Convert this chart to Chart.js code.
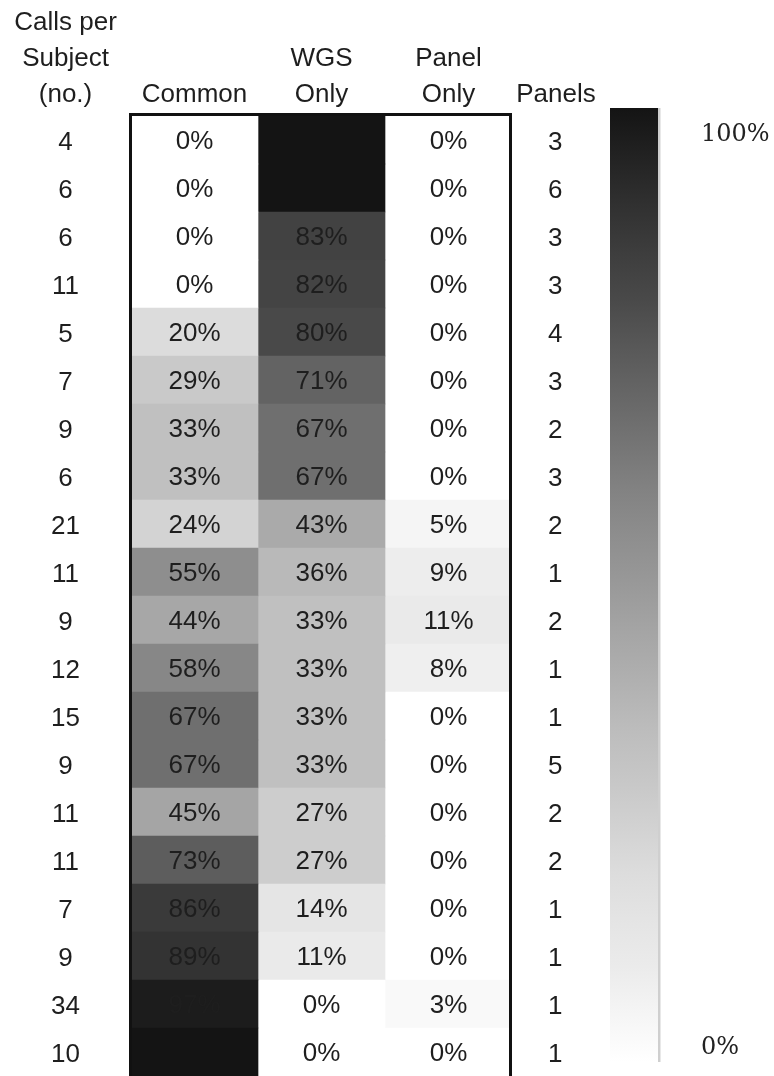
<!DOCTYPE html>
<html>
<head>
<meta charset="utf-8">
<script src="https://cdn.jsdelivr.net/npm/chart.js@4.4.1/dist/chart.umd.min.js"></script>
<style>
  html, body { margin: 0; padding: 0; background: #fff; overflow: hidden; }
  canvas { display: block; }
</style>
</head>
<body>
<canvas id="heat" width="774" height="1076"></canvas>
<script>
// rows, top to bottom
let callsPerSubject = [4, 6, 6, 11, 5, 7, 9, 6, 21, 11, 9, 12, 15, 9, 11, 11, 7, 9, 34, 10];
let panelCounts = [3, 6, 3, 3, 4, 3, 2, 3, 2, 1, 2, 1, 1, 5, 2, 2, 1, 1, 1, 1];
let commonPct = [0, 0, 0, 0, 20, 29, 33, 33, 24, 55, 44, 58, 67, 67, 45, 73, 86, 89, 97, 100];
let wgsOnlyPct = [100, 100, 83, 82, 80, 71, 67, 67, 43, 36, 33, 33, 33, 33, 27, 27, 14, 11, 0, 0];
let panelOnlyPct = [0, 0, 0, 0, 0, 0, 0, 0, 5, 9, 11, 8, 0, 0, 0, 0, 0, 0, 3, 0];
let columnHeaders = [['Common'], ['WGS', 'Only'], ['Panel', 'Only']];
let colorbarLabels = ['0%', '100%'];

// grey colour map (fraction -> grey level)
const greyStops = [[0, 255], [0.1, 235], [0.2, 220], [0.33, 192], [0.45, 165],
    [0.58, 135], [0.67, 111], [0.8, 73], [0.89, 51], [1, 20]];

function greyFor(frac) {
    for (let i = 1; i < greyStops.length; i++) {
        let a = greyStops[i - 1], b = greyStops[i];
        if (frac <= b[0]) {
            let t = (frac - a[0]) / (b[0] - a[0]);
            let g = Math.round(a[1] + (b[1] - a[1]) * t);
            return `rgb(${g}, ${g}, ${g})`;
        }
    }
    return 'rgb(20, 20, 20)';
}

const FONT = '"Liberation Sans", Arial, sans-serif';
const TXT = '#1e1e1e';
const LINE_H = 36;

function column(label, values) {
    return {
        label: label,
        data: values.map(() => 1),   // every cell is one unit wide
        pct: values,
        backgroundColor: values.map(v => greyFor(v / 100)),
        borderWidth: 0,
        barPercentage: 1,
        categoryPercentage: 1
    };
}

// side axes: fixed width, no extra label padding above/below
function sideAxisFit(width) {
    return s => {
        s.width = width;
        s.paddingTop = 0;
        s.paddingBottom = 0;
    };
}

// cell texts, frame, extra headers and colour bar
const tablePlugin = {
    id: 'tableDeco',
    afterDatasetsDraw(chart) {
        const ctx = chart.ctx;
        ctx.save();
        ctx.font = `26px ${FONT}`;
        ctx.fillStyle = TXT;
        ctx.textAlign = 'center';
        ctx.textBaseline = 'middle';
        chart.data.datasets.forEach((ds, di) => {
            chart.getDatasetMeta(di).data.forEach((bar, i) => {
                let v = ds.pct[i];
                if (v === 100) return;
                ctx.fillText(v + '%', (bar.x + bar.base) / 2, bar.y + 2);
            });
        });
        ctx.restore();
    },
    afterDraw(chart) {
        const ctx = chart.ctx;
        const area = chart.chartArea;
        const yl = chart.scales.y, yr = chart.scales.y2, xs = chart.scales.x;
        ctx.save();
        // frame
        ctx.strokeStyle = '#111';
        ctx.lineWidth = 3;
        ctx.beginPath();
        ctx.moveTo(area.left - 0.5, area.bottom + 10);
        ctx.lineTo(area.left - 0.5, area.top - 1.5);
        ctx.lineTo(area.right - 1.5, area.top - 1.5);
        ctx.lineTo(area.right - 1.5, area.bottom + 10);
        ctx.stroke();

        // side headers
        ctx.font = `26px ${FONT}`;
        ctx.fillStyle = TXT;
        ctx.textAlign = 'center';
        ctx.textBaseline = 'middle';
        let lastY = xs.bottom - 3 - LINE_H / 2;
        let leftHead = ['Calls per', 'Subject', '(no.)'];
        leftHead.forEach((t, i) => {
            ctx.fillText(t, (yl.left + yl.right) / 2, lastY - (leftHead.length - 1 - i) * LINE_H);
        });
        ctx.fillText('Panels', (yr.left + yr.right) / 2, lastY);

        // colour bar
        let bx = yr.right + 10, bw = 48;
        let top = area.top - 8, bottom = area.bottom - 14;
        let grad = ctx.createLinearGradient(0, top, 0, bottom);
        for (let k = 0; k <= 20; k++) {
            grad.addColorStop(k / 20, greyFor(1 - k / 20));
        }
        ctx.fillStyle = grad;
        ctx.fillRect(bx, top, bw, bottom - top);
        ctx.fillStyle = '#cfcfcf';
        ctx.fillRect(bx + bw, top, 2, bottom - top);
        ctx.fillStyle = '#e8e8e8';
        ctx.fillRect(bx + bw + 2, top, 1, bottom - top);

        ctx.font = '24px "DejaVu Serif", "Liberation Serif", serif';
        ctx.fillStyle = '#222';
        ctx.textAlign = 'left';
        ctx.fillText(colorbarLabels[1], bx + 91, top + 27);
        ctx.fillText(colorbarLabels[0], bx + 91, bottom - 14);
        ctx.restore();
    }
};

new Chart(document.getElementById('heat'), {
    type: 'bar',
    data: {
        labels: callsPerSubject.map(String),
        datasets: [
            column('Common', commonPct),
            column('WGS Only', wgsOnlyPct),
            column('Panel Only', panelOnlyPct)
        ]
    },
    options: {
        indexAxis: 'y',
        responsive: false,
        animation: false,
        layout: { padding: { left: 0, right: 174, top: 0, bottom: 0 } },
        plugins: {
            legend: { display: false },
            tooltip: { enabled: false }
        },
        scales: {
            x: {
                type: 'linear',
                position: 'top',
                stacked: true,
                min: 0,
                max: columnHeaders.length,
                grid: { display: false, drawTicks: false },
                border: { display: false },
                afterBuildTicks: s => { s.ticks = columnHeaders.map((h, i) => ({ value: i + 0.5 })); },
                afterFit: s => { s.height = 116; },
                ticks: {
                    padding: 3,
                    maxRotation: 0,
                    autoSkip: false,
                    color: TXT,
                    font: { family: FONT, size: 26, lineHeight: LINE_H / 26 },
                    callback: (v, i) => columnHeaders[i]
                }
            },
            y: {
                type: 'category',
                position: 'left',
                stacked: true,
                grid: { display: false, drawTicks: false },
                border: { display: false },
                afterFit: sideAxisFit(131),
                ticks: {
                    crossAlign: 'center',
                    padding: 51,
                    labelOffset: 3,
                    autoSkip: false,
                    color: TXT,
                    font: { family: FONT, size: 26 }
                }
            },
            y2: {
                type: 'category',
                position: 'right',
                labels: panelCounts.map(String),
                offset: true,
                grid: { display: false, drawTicks: false },
                border: { display: false },
                afterFit: sideAxisFit(88),
                ticks: {
                    crossAlign: 'center',
                    padding: 36,
                    labelOffset: 3,
                    autoSkip: false,
                    color: TXT,
                    font: { family: FONT, size: 26 }
                }
            }
        }
    },
    plugins: [tablePlugin]
});
</script>
</body>
</html>
